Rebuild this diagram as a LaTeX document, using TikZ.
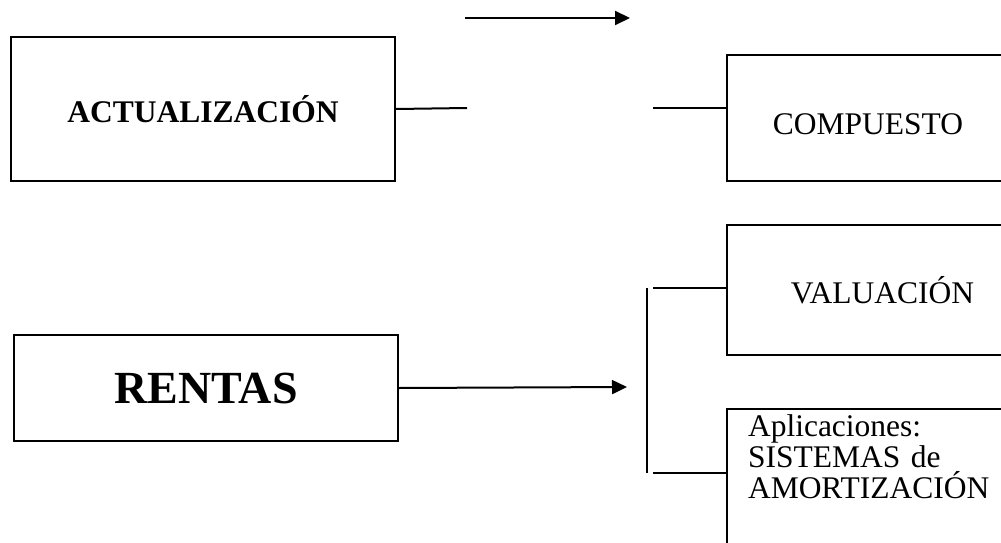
\documentclass[tikz,border=0pt]{standalone}
\usepackage{fontspec}
\setmainfont{Liberation Serif}
\usetikzlibrary{arrows.meta, positioning}

\begin{document}
\begin{tikzpicture}[x=1pt, y=-1pt,
    caja/.style={rectangle, draw=black, line width=2pt, inner sep=0pt, anchor=north west, font=\fontsize{31.5}{31}\selectfont},
    linea/.style={line width=2pt},
    flecha/.style={-{Triangle[length=15pt, width=14pt]}, line width=2pt}
]
\clip (0,0) rectangle (1001,543);

\node[caja, minimum width=384pt, minimum height=144pt, font=\fontsize{31.5}{31}\selectfont\bfseries] (act) at (10,36) {ACTUALIZACIÓN};
\node[caja, minimum width=282pt, minimum height=126pt, text height=33pt, text depth=0pt] (comp) at (726,54) {COMPUESTO};
\node[caja, minimum width=311pt, minimum height=130pt] (val) at (726,224) {VALUACIÓN};
\node[caja, align=left, text width=262pt, inner xsep=21pt, inner ysep=6pt, text depth=140pt] (apl) at (726,408) {Aplicaciones:\\SISTEMAS de\\AMORTIZACIÓN};
\node[caja, minimum width=384pt, minimum height=106pt, font=\fontsize{46}{50}\selectfont\bfseries] (rentas) at (13,334) {RENTAS};

\coordinate (a1) at (465,18);
\coordinate (a2) at (630,18);
\coordinate (c1) at (467,108);
\coordinate (c2) at (653,108);
\coordinate (r1) at (627,387);
\coordinate (bt) at (647,288);
\coordinate (bb) at (647,473);
\coordinate (h1) at (653,288);
\coordinate (h2) at (653,473);

\draw[flecha] (a1) -- (a2);
\draw[linea] (act.east) -- (c1);
\draw[linea] (c2) -- (c2 -| comp.west);
\draw[flecha] (rentas.east) -- (r1);
\draw[linea] (bt) -- (bb);
\draw[linea] (h1) -- (h1 -| val.west);
\draw[linea] (h2) -- (h2 -| apl.west);
\end{tikzpicture}
\end{document}
